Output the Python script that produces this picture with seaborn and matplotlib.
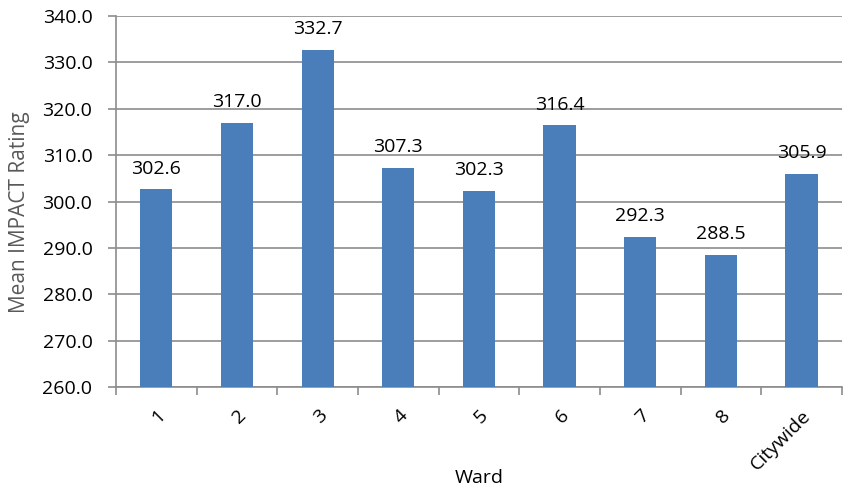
import pandas as pd
import seaborn as sns
import matplotlib.pyplot as plt
import numpy as np
from matplotlib.ticker import FixedLocator

wards = ['1', '2', '3', '4', '5', '6', '7', '8', 'Citywide']
ratings = [302.6, 317.0, 332.7, 307.3, 302.3, 316.4, 292.3, 288.5, 305.9]

df = pd.DataFrame({'Ward': wards, 'Rating': ratings})

sns.set_style("white")
plt.rcParams['font.family'] = ['Open Sans', 'DejaVu Sans']
plt.rcParams['text.color'] = 'black'
plt.rcParams['xtick.labelcolor'] = 'black'
plt.rcParams['ytick.labelcolor'] = 'black'

fig = plt.figure(figsize=(8.48, 4.93), dpi=100)
ax = fig.add_axes([0.1368, 0.215, 0.856, 0.7525])

sns.barplot(data=df, x='Ward', y='Rating', color='#4a7ebb', width=0.4,
            saturation=1, linewidth=0, ax=ax, zorder=3)

ax.set_ylim(260, 340)
ax.set_xlim(-0.5, len(wards) - 0.5)
ax.set_yticks(np.arange(260, 341, 10))
ax.set_yticklabels(['%.1f' % v for v in np.arange(260, 341, 10)], fontsize=14)
ax.yaxis.grid(True, color='#8c8c8c', linewidth=1.2, zorder=0)
ax.set_axisbelow(True)

for i, v in enumerate(ratings):
    ax.text(i, v + 3.4, '%.1f' % v, ha='center', va='baseline', fontsize=14, color='black')

ax.set_xticks(range(len(wards)))
ax.set_xticklabels(wards, rotation=45, ha='right', rotation_mode='anchor', fontsize=14)
ax.xaxis.set_minor_locator(FixedLocator(np.arange(-0.5, len(wards), 1)))
ax.tick_params(axis='x', which='major', length=0, pad=14)
ax.tick_params(axis='x', which='minor', length=6, color='#8c8c8c', width=1.2, bottom=True)
ax.tick_params(axis='y', length=6, color='#8c8c8c', width=1.2, left=True, pad=11)

for s in ['top', 'right']:
    ax.spines[s].set_visible(False)
for s in ['left', 'bottom']:
    ax.spines[s].set_color('#8c8c8c')
    ax.spines[s].set_linewidth(1.2)

ax.set_xlabel('Ward', fontsize=14, labelpad=-3, color='black')
ax.set_ylabel('Mean IMPACT Rating', fontsize=15, color='#595959', labelpad=9)
ax.yaxis.label.set_y(0.47)

fig.savefig('out.png', dpi=100)
